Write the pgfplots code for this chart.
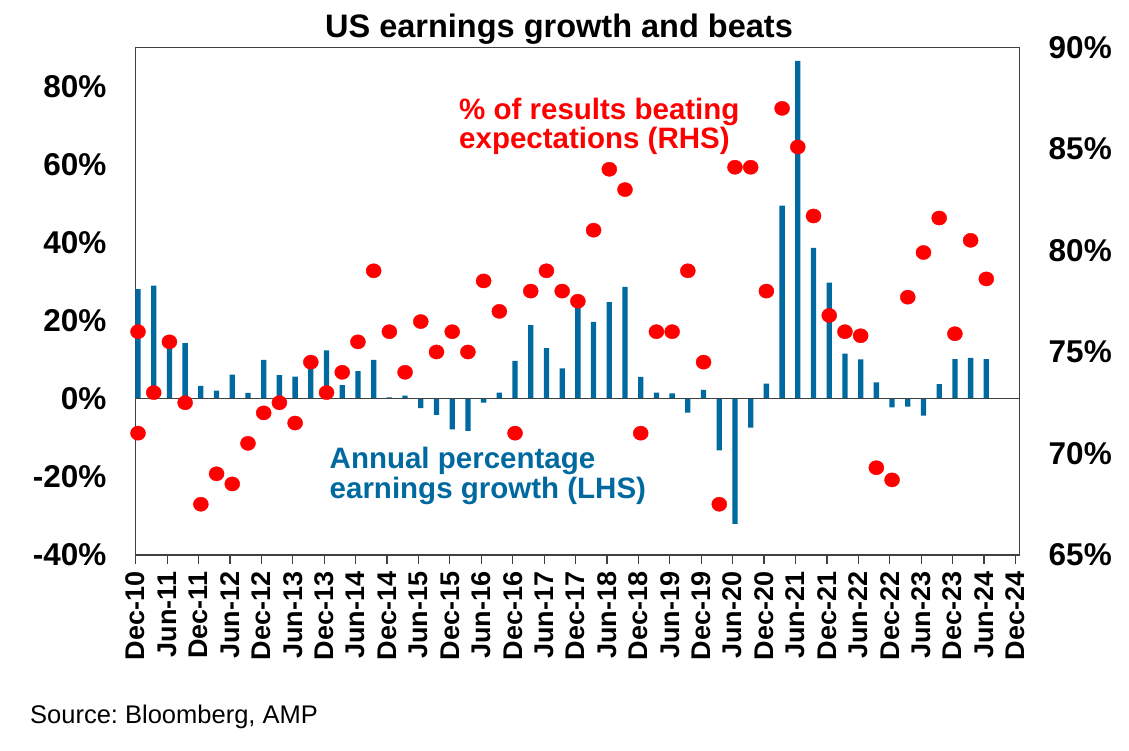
\documentclass[border=0pt]{standalone}
\usepackage{fontspec}
\setmainfont{Liberation Sans}
\usepackage{pgfplots}
\usepackage{pgfplotstable}
\pgfplotsset{compat=1.18}
\definecolor{ampblue}{RGB}{0,105,160}
\definecolor{ampred}{RGB}{255,0,0}
\definecolor{framegray}{RGB}{64,64,64}

\pgfplotstableread{
i g
0 28.1
1 29.0
2 15.0
3 14.3
4 3.3
5 2.1
6 6.2
7 1.5
8 10.0
9 6.1
10 5.7
11 9.0
12 12.4
13 3.5
14 7.1
15 10.0
16 0.35
17 0.8
18 -2.4
19 -4.1
20 -7.8
21 -8.2
22 -1.0
23 1.6
24 9.7
25 18.9
26 13.0
27 7.8
28 24.5
29 19.7
30 24.8
31 28.7
32 5.6
33 1.6
34 1.4
35 -3.5
36 2.3
37 -13.2
38 -32.0
39 -7.4
40 3.9
41 49.5
42 86.6
43 38.7
44 29.8
45 11.6
46 10.1
47 4.2
48 -2.2
49 -2.0
50 -4.3
51 3.8
52 10.2
53 10.5
54 10.2
}\growth

\pgfplotstableread{
i b
0 76.0
0 71.0
1 73.0
2 75.5
3 72.5
4 67.5
5 69.0
6 68.5
7 70.5
8 72.0
9 72.5
10 71.5
11 74.5
12 73.0
13 74.0
14 75.5
15 79.0
16 76.0
17 74.0
18 76.5
19 75.0
20 76.0
21 75.0
22 78.5
23 77.0
24 71.0
25 78.0
26 79.0
27 78.0
28 77.5
29 81.0
30 84.0
31 83.0
32 71.0
33 76.0
34 76.0
35 79.0
36 74.5
37 67.5
38 84.1
39 84.1
40 78.0
41 87.0
42 85.1
43 81.7
44 76.8
45 76.0
46 75.8
47 69.3
48 68.7
49 77.7
50 79.9
51 81.6
52 75.9
53 80.5
54 78.6
}\beats

\newcommand{\ticfont}{\fontsize{31.5bp}{36bp}\selectfont\bfseries}
\newcommand{\xticfont}{\fontsize{27bp}{30bp}\selectfont\bfseries}
\newcommand{\annfont}{\fontsize{29.5bp}{32bp}\selectfont\bfseries}

\begin{document}
\frenchspacing
\begin{tikzpicture}[x=1bp,y=1bp]
\useasboundingbox (0,0) rectangle (1129,751);
\begin{axis}[
  at={(135.7bp,196bp)}, anchor=south west,
  scale only axis, width=883.8bp, height=507.5bp,
  xmin=0, xmax=56.26, ymin=-40, ymax=90,
  xtick={0,2,...,56},
  xticklabels={Dec-10,Jun-11,Dec-11,Jun-12,Dec-12,Jun-13,Dec-13,Jun-14,Dec-14,Jun-15,Dec-15,Jun-16,Dec-16,Jun-17,Dec-17,Jun-18,Dec-18,Jun-19,Dec-19,Jun-20,Dec-20,Jun-21,Dec-21,Jun-22,Dec-22,Jun-23,Dec-23,Jun-24,Dec-24},
  xtick pos=left, ytick pos=left,
  ytick={-40,-20,...,80},
  tick align=outside, major tick length=8.7bp,
  xtick style={draw=framegray, line width=1.2bp},
  ytick style={draw=none},
  axis line style={draw=framegray, line width=1.3bp},
  /pgf/number format/assume math mode=true,
  yticklabel={\pgfmathprintnumber{\tick}\%},
  yticklabel style={font=\ticfont, inner sep=0pt, xshift=-20.5bp},
  xticklabel style={font=\xticfont, rotate=90, anchor=east, inner sep=0pt, xshift=-8bp},
  clip=false,
]
\addplot[ybar, bar width=5.3bp, fill=ampblue, draw=none] table[x expr=\thisrow{i}+0.147, y=g] {\growth};
\draw[framegray, line width=1.3bp] (axis cs:0,0) -- (axis cs:56.26,0);
\end{axis}
\begin{axis}[
  at={(135.7bp,196bp)}, anchor=south west,
  scale only axis, width=883.8bp, height=507.5bp,
  xmin=0, xmax=56.26, ymin=65, ymax=90,
  axis x line=none, axis y line*=right,
  y axis line style={draw=none},
  ytick={65,70,...,90},
  ytick style={draw=none},
  /pgf/number format/assume math mode=true,
  yticklabel={\pgfmathprintnumber{\tick}\%},
  yticklabel style={font=\ticfont, inner sep=0pt, xshift=29bp},
  clip=false,
]
\addplot[only marks, mark=*, mark size=7.1bp, color=ampred, mark options={xscale=1.06}] table[x expr=\thisrow{i}+0.147, y=b] {\beats};
\end{axis}
\node[anchor=base, inner sep=0pt, font=\fontsize{32.5bp}{36bp}\selectfont\bfseries] at (559,713) {US earnings growth and beats};
\node[anchor=base west, inner sep=0pt, font=\annfont, text=ampred] at (459,631.5) {\% of results beating};
\node[anchor=base west, inner sep=0pt, font=\annfont, text=ampred] at (459,602) {expectations (RHS)};
\node[anchor=base west, inner sep=0pt, font=\annfont, text=ampblue] at (329.5,282) {Annual percentage};
\node[anchor=base west, inner sep=0pt, font=\annfont, text=ampblue] at (329.5,252) {earnings growth (LHS)};
\node[anchor=base west, inner sep=0pt, font=\fontsize{25.5bp}{30bp}\selectfont] at (30,27) {Source: Bloomberg, AMP};
\end{tikzpicture}
\end{document}
